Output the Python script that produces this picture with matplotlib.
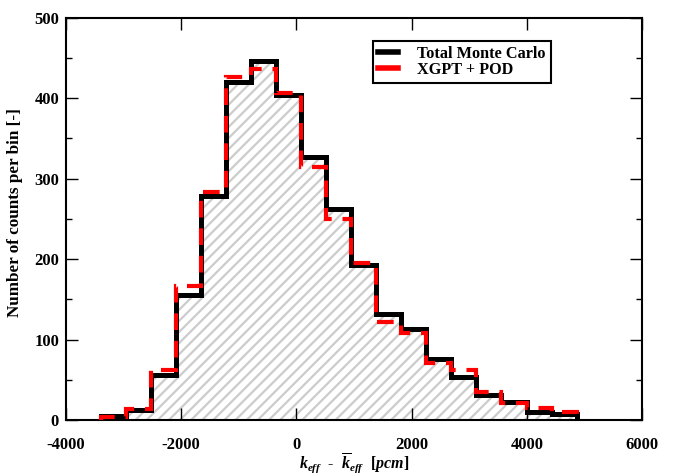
import numpy as np
import matplotlib
matplotlib.use("Agg")
import matplotlib.pyplot as plt
from matplotlib.lines import Line2D

plt.rcParams["font.family"] = ["Liberation Serif", "DejaVu Serif"]
plt.rcParams["font.weight"] = "bold"
plt.rcParams["axes.unicode_minus"] = False
plt.rcParams["mathtext.fontset"] = "custom"
plt.rcParams["mathtext.rm"] = "Liberation Serif:bold"
plt.rcParams["mathtext.it"] = "Liberation Serif:italic:bold"
plt.rcParams["mathtext.bf"] = "Liberation Serif:bold"
plt.rcParams["hatch.linewidth"] = 1.6

# bin edges in pcm (19 bins)
bin_edges = [-3400, -2965, -2530, -2095, -1660, -1225, -790, -355, 80, 515,
             950, 1385, 1820, 2255, 2690, 3125, 3560, 3995, 4430, 4865]
# counts per bin
total_mc = [5, 13, 56, 155, 278, 420, 446, 404, 327, 262,
            193, 132, 113, 76, 53, 31, 23, 10, 7]
xgpt_pod = [4, 14, 62, 167, 283, 426, 436, 407, 315, 250,
            195, 122, 108, 71, 62, 35, 21, 15, 10]

fig = plt.figure(figsize=(6.73, 4.76), dpi=100)
ax = fig.add_axes([0.098, 0.1176, 0.856, 0.845])

# hatched area under the Monte Carlo histogram
ax.stairs(total_mc, bin_edges, baseline=0, fill=True, hatch="///",
          facecolor="white", edgecolor="#cccccc", linewidth=0, zorder=1)
ax.stairs(total_mc, bin_edges, baseline=0, color="black", linewidth=3.6,
          zorder=2)
ax.stairs(xgpt_pod, bin_edges, baseline=0, color="red", linewidth=3.0,
          linestyle=(0, (4, 2.6)), zorder=3)

ax.set_xlim(-4000, 6000)
ax.set_ylim(0, 500)
ax.set_xticks(np.arange(-4000, 6001, 2000))
ax.set_yticks(np.arange(0, 501, 100))
ax.set_yticks(np.arange(0, 501, 50), minor=True)
ax.tick_params(which="both", direction="in", top=True, right=True,
               labelsize=12, width=1.0)
ax.tick_params(axis="x", pad=12)
ax.tick_params(axis="y", pad=5)
ax.tick_params(which="major", length=8.5)
ax.tick_params(which="minor", length=4.3)
for lab in ax.get_xticklabels() + ax.get_yticklabels():
    lab.set_fontweight("bold")
for sp in ax.spines.values():
    sp.set_linewidth(1.5)

ax.set_ylabel("Number of counts per bin [-]", fontsize=12.3, fontweight="bold")
ax.yaxis.set_label_coords(-0.075, 0.515)
ax.set_xlabel(r"$k_{eff}$  -  $\overline{k}_{eff}$  $[pcm]$", fontsize=11.5)
ax.xaxis.set_label_coords(0.5, -0.078)

handles = [Line2D([], [], color="black", lw=4),
           Line2D([], [], color="red", lw=4)]
leg = ax.legend(handles, ["Total Monte Carlo", "XGPT + POD"],
                loc="upper left", bbox_to_anchor=(0.525, 0.955),
                prop={"size": 11.7, "weight": "bold"}, handlelength=1.2,
                handletextpad=1.2, borderpad=0.3, labelspacing=0.0,
                borderaxespad=0.3, fancybox=False, framealpha=1)
leg.get_frame().set_edgecolor("black")
leg.get_frame().set_linewidth(1.5)

plt.savefig("out.png", dpi=100)
